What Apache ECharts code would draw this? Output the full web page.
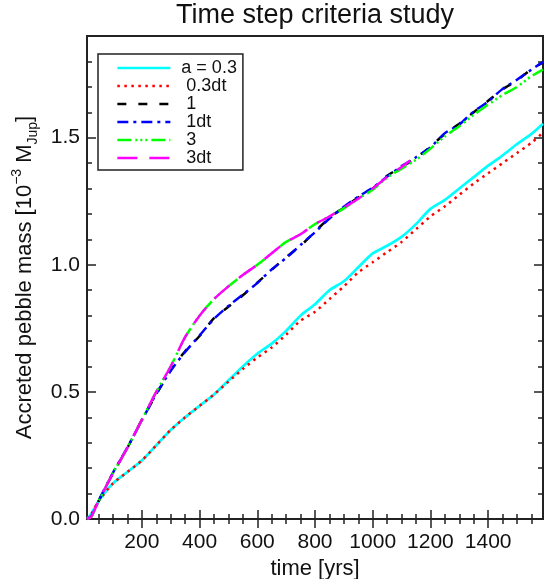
<!DOCTYPE html>
<html>
<head>
<meta charset="utf-8">
<script src="https://cdn.jsdelivr.net/npm/echarts@6/dist/echarts.min.js"></script>
<style>
  html, body { margin: 0; padding: 0; background: #fff; }
  #chart { width: 550px; height: 579px; }
</style>
</head>
<body>
<div id="chart"></div>
<script>
// time [yrs]
let timeAll = [10, 25, 50, 100, 150, 200, 250, 300, 350, 400, 450, 500, 550, 600, 650, 700, 750, 800, 850,
  900, 950, 1000, 1050, 1100, 1150, 1200, 1250, 1300, 1350, 1400, 1450, 1500, 1550, 1590];
let time3dt = [10, 25, 50, 100, 150, 200, 250, 300, 350, 400, 450, 500, 550, 600, 650, 700, 750, 800, 850,
  900, 950, 1000, 1050, 1100, 1130];

// accreted pebble mass [1e-3 MJup]
let massA03 = [0, 0.02, 0.07, 0.14, 0.185, 0.23, 0.29, 0.35, 0.40, 0.445, 0.49, 0.545, 0.60, 0.65, 0.69, 0.74,
  0.80, 0.845, 0.90, 0.935, 0.99, 1.045, 1.075, 1.11, 1.16, 1.22, 1.255, 1.30, 1.345, 1.39, 1.43, 1.475, 1.515, 1.555];
let mass03dt = [0, 0.02, 0.07, 0.14, 0.185, 0.23, 0.29, 0.35, 0.40, 0.445, 0.49, 0.54, 0.59, 0.635, 0.675, 0.725,
  0.78, 0.815, 0.865, 0.915, 0.97, 1.01, 1.05, 1.09, 1.14, 1.19, 1.23, 1.275, 1.32, 1.36, 1.40, 1.44, 1.48, 1.52];
let mass1 = [0, 0.01, 0.07, 0.18, 0.28, 0.39, 0.49, 0.585, 0.66, 0.72, 0.79, 0.835, 0.88, 0.93, 0.98, 1.03,
  1.075, 1.13, 1.185, 1.225, 1.265, 1.30, 1.35, 1.385, 1.42, 1.465, 1.515, 1.555, 1.60, 1.645, 1.69, 1.725, 1.77, 1.795];
let mass1dt = [0, 0.012, 0.072, 0.182, 0.282, 0.388, 0.492, 0.583, 0.657, 0.722, 0.787, 0.838, 0.883, 0.928, 0.982, 1.027,
  1.078, 1.128, 1.182, 1.228, 1.268, 1.303, 1.347, 1.388, 1.423, 1.462, 1.518, 1.552, 1.603, 1.642, 1.692, 1.728, 1.768, 1.798];
let mass3 = [0, 0.01, 0.07, 0.18, 0.28, 0.39, 0.50, 0.60, 0.715, 0.80, 0.865, 0.915, 0.96, 1.0, 1.045, 1.09,
  1.12, 1.16, 1.19, 1.222, 1.26, 1.295, 1.343, 1.378, 1.413, 1.457, 1.505, 1.545, 1.59, 1.63, 1.668, 1.70, 1.742, 1.768];
let mass3dt = [0, 0.01, 0.07, 0.18, 0.28, 0.39, 0.50, 0.60, 0.715, 0.80, 0.865, 0.915, 0.96, 1.0, 1.045, 1.09,
  1.12, 1.16, 1.19, 1.225, 1.26, 1.30, 1.345, 1.385, 1.41];

let seriesNames = ["a = 0.3", " 0.3dt", " 1", " 1dt", " 3", " 3dt"];
let xMajorTicks = [200, 400, 600, 800, 1000, 1200, 1400];
let yMajorTicks = [0, 0.5, 1.0, 1.5];

let xMin = 10, xMax = 1590, yMin = 0, yMax = 1.9;

let xMinorTicks = [];
for (let t = 50; t < xMax; t += 50) xMinorTicks.push(t);
let yMinorTicks = [];
for (let i = 1; i < 19; i++) yMinorTicks.push(+(i * 0.1).toFixed(1));

function pairs(xs, ys) {
  return xs.map(function (x, i) { return [x, ys[i]]; });
}

let font = "Liberation Sans";
let axisColor = "#222";

/* one axis per tick set: majors carry labels, minors are short */
function xAxisDef(pos, ticks, len, labels) {
  return {
    type: "value", position: pos, min: xMin, max: xMax,
    axisLine: { show: false },
    splitLine: { show: false },
    axisTick: { show: true, inside: true, length: len, customValues: ticks,
      lineStyle: { color: axisColor, width: 1.5 } },
    axisLabel: labels ? { show: true, customValues: ticks, margin: 13, fontSize: 21,
      fontFamily: font, color: "#111",
      formatter: function (v) { return String(v); } } : { show: false },
  };
}
function yAxisDef(pos, ticks, len, labels) {
  return {
    type: "value", position: pos, min: yMin, max: yMax,
    axisLine: { show: false },
    splitLine: { show: false },
    axisTick: { show: true, inside: true, length: len, customValues: ticks,
      lineStyle: { color: axisColor, width: 1.5 } },
    axisLabel: labels ? { show: true, customValues: ticks, margin: 7, fontSize: 21,
      fontFamily: font, color: "#111",
      formatter: function (v) { return v.toFixed(1); } } : { show: false },
  };
}

let xAxes = [
  xAxisDef("bottom", xMajorTicks, 9, true),
  xAxisDef("bottom", xMinorTicks, 5, false),
  xAxisDef("top", xMajorTicks, 9, false),
  xAxisDef("top", xMinorTicks, 5, false),
];
xAxes[0].name = "time [yrs]";
xAxes[0].nameLocation = "middle";
xAxes[0].nameGap = 32;
xAxes[0].nameTextStyle = { fontSize: 22, fontFamily: font, color: "#111" };

let yAxes = [
  yAxisDef("left", yMajorTicks, 9, true),
  yAxisDef("left", yMinorTicks, 5, false),
  yAxisDef("right", yMajorTicks, 9, false),
  yAxisDef("right", yMinorTicks, 5, false),
];
yAxes[0].name = "Accreted pebble mass [10{sup|\u22123} M{sub|Jup}]";
yAxes[0].nameLocation = "middle";
yAxes[0].nameGap = 44;
yAxes[0].nameRotate = 90;
yAxes[0].nameTextStyle = {
  fontSize: 22, fontFamily: font, color: "#111", lineHeight: 30,
  rich: {
    sup: { fontSize: 14, fontFamily: font, color: "#111", verticalAlign: "top", lineHeight: 14 },
    sub: { fontSize: 14, fontFamily: font, color: "#111", verticalAlign: "bottom", lineHeight: 14 },
  },
};

function lineSeries(name, data, color, dash, width) {
  return {
    name: name, type: "line", data: data, symbol: "none", smooth: 0.25,
    xAxisIndex: 0, yAxisIndex: 0,
    lineStyle: { color: color, width: width || 2.5, type: dash, cap: "butt" },
    itemStyle: { color: color },
    animation: false,
  };
}

let chart = echarts.init(document.getElementById("chart"));
chart.setOption({
  animation: false,
  graphic: [{
    type: "text", x: 315, y: 16,
    style: { text: "Time step criteria study", fontSize: 27, fontFamily: font, fill: "#111",
      align: "center", verticalAlign: "middle" },
  }],
  grid: { left: 87, right: 7, top: 36, bottom: 60, show: true, borderColor: axisColor,
    borderWidth: 2, backgroundColor: "transparent", outerBoundsMode: "none", containLabel: false },
  legend: {
    orient: "vertical", left: 98, top: 54, width: 144,
    padding: [5, 6, 3, 18],
    itemWidth: 53, itemHeight: 14, itemGap: 0,
    itemStyle: { opacity: 0 },
    lineStyle: { width: 2.7 },
    borderColor: "#222", borderWidth: 1.5,
    textStyle: { fontSize: 18, lineHeight: 14, fontFamily: font, color: "#111", padding: [0, 0, 0, 6] },
    data: seriesNames,
  },
  xAxis: xAxes,
  yAxis: yAxes,
  series: [
    lineSeries(seriesNames[0], pairs(timeAll, massA03), "#00ffff", "solid", 2.7),
    lineSeries(seriesNames[1], pairs(timeAll, mass03dt), "#ff0000", [2.5, 4.5]),
    lineSeries(seriesNames[2], pairs(timeAll, mass1), "#000000", [9, 12]),
    lineSeries(seriesNames[3], pairs(timeAll, mass1dt), "#0000ff", [11, 5, 3, 5]),
    lineSeries(seriesNames[4], pairs(timeAll, mass3), "#00ff00", [14, 4, 2, 3, 2, 3, 2, 4]),
    lineSeries(seriesNames[5], pairs(time3dt, mass3dt), "#ff00ff", [20, 12]),
  ],
});
</script>
</body>
</html>
